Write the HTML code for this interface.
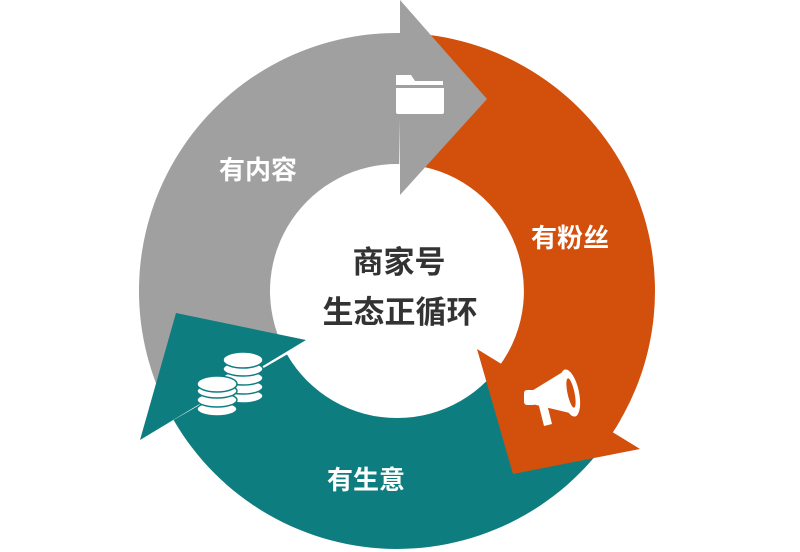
<!DOCTYPE html>
<html><head><meta charset="utf-8"><style>
html,body{margin:0;padding:0;background:#fff;}
svg{display:block;}
text{font-family:"Liberation Sans","Noto Sans CJK SC",sans-serif;font-weight:bold;}
</style></head><body>
<svg width="800" height="552" viewBox="0 0 800 552">
<rect width="800" height="552" fill="#fff"/>
<!-- teal body -->
<path d="M 620.4 420 A 258 258 0 0 1 173.6 420 L 287 354.5 A 127 127 0 0 0 507 354.5 Z" fill="#0e7d80"/>
<!-- orange body -->
<path d="M 419.5 33.9 A 258 258 0 0 1 605.7 442.6 L 499.7 365.6 A 127 127 0 0 0 408.1 164.5 Z" fill="#d24f0c"/>
<polygon points="477,349 640,449 513,474" fill="#d24f0c"/>
<!-- gray -->
<path d="M 159.5 391.8 A 258 258 0 0 1 401.5 33 L 399.2 164 A 127 127 0 0 0 280.1 340.6 Z" fill="#a0a0a0"/>
<polygon points="400,0 487,99 400,195" fill="#a0a0a0"/>
<!-- teal head -->
<polygon points="140,440 176,313 306,340" fill="#0e7d80"/>

<!-- folder icon -->
<path d="M396 75 h15 l4 6 h28 v4 h-47 z" fill="#fff"/>
<path d="M396 88 h48 v24 a2 2 0 0 1 -2 2 h-44 a2 2 0 0 1 -2 -2 z" fill="#fff"/>

<!-- megaphone -->
<g fill="#fff">
<path d="M530 392 l36 -22 l8 44 l-42 -10 z"/>
<ellipse cx="570" cy="393" rx="9" ry="24" transform="rotate(-12 570 393)"/>
<rect x="524" y="390" width="12" height="15" rx="3"/>
<path d="M538 402 l9 2 l5 20 l-8 2 z"/>
</g>
<ellipse cx="571" cy="393" rx="3.5" ry="15" transform="rotate(-12 571 393)" fill="#d24f0c"/>

<!-- coins -->
<g fill="#fff" stroke="#0e7d80" stroke-width="1.5">
<ellipse cx="243" cy="396" rx="20" ry="7"/>
<ellipse cx="243" cy="387" rx="20" ry="7"/>
<ellipse cx="243" cy="378" rx="20" ry="7"/>
<ellipse cx="243" cy="369" rx="20" ry="7"/>
<ellipse cx="243" cy="360" rx="20" ry="8"/>
<ellipse cx="217" cy="409" rx="20" ry="7"/>
<ellipse cx="217" cy="400" rx="20" ry="7"/>
<ellipse cx="217" cy="391" rx="20" ry="7"/>
<ellipse cx="217" cy="384" rx="20" ry="8"/>
</g>

<text x="258" y="179" font-size="26" fill="#fff" text-anchor="middle">有内容</text>
<text x="570" y="247" font-size="26" fill="#fff" text-anchor="middle">有粉丝</text>
<text x="366" y="489" font-size="26" fill="#fff" text-anchor="middle">有生意</text>
<text x="399" y="273" font-size="31" fill="#333" text-anchor="middle">商家号</text>
<text x="400" y="323" font-size="31" fill="#333" text-anchor="middle">生态正循环</text>
</svg>
</body></html>
